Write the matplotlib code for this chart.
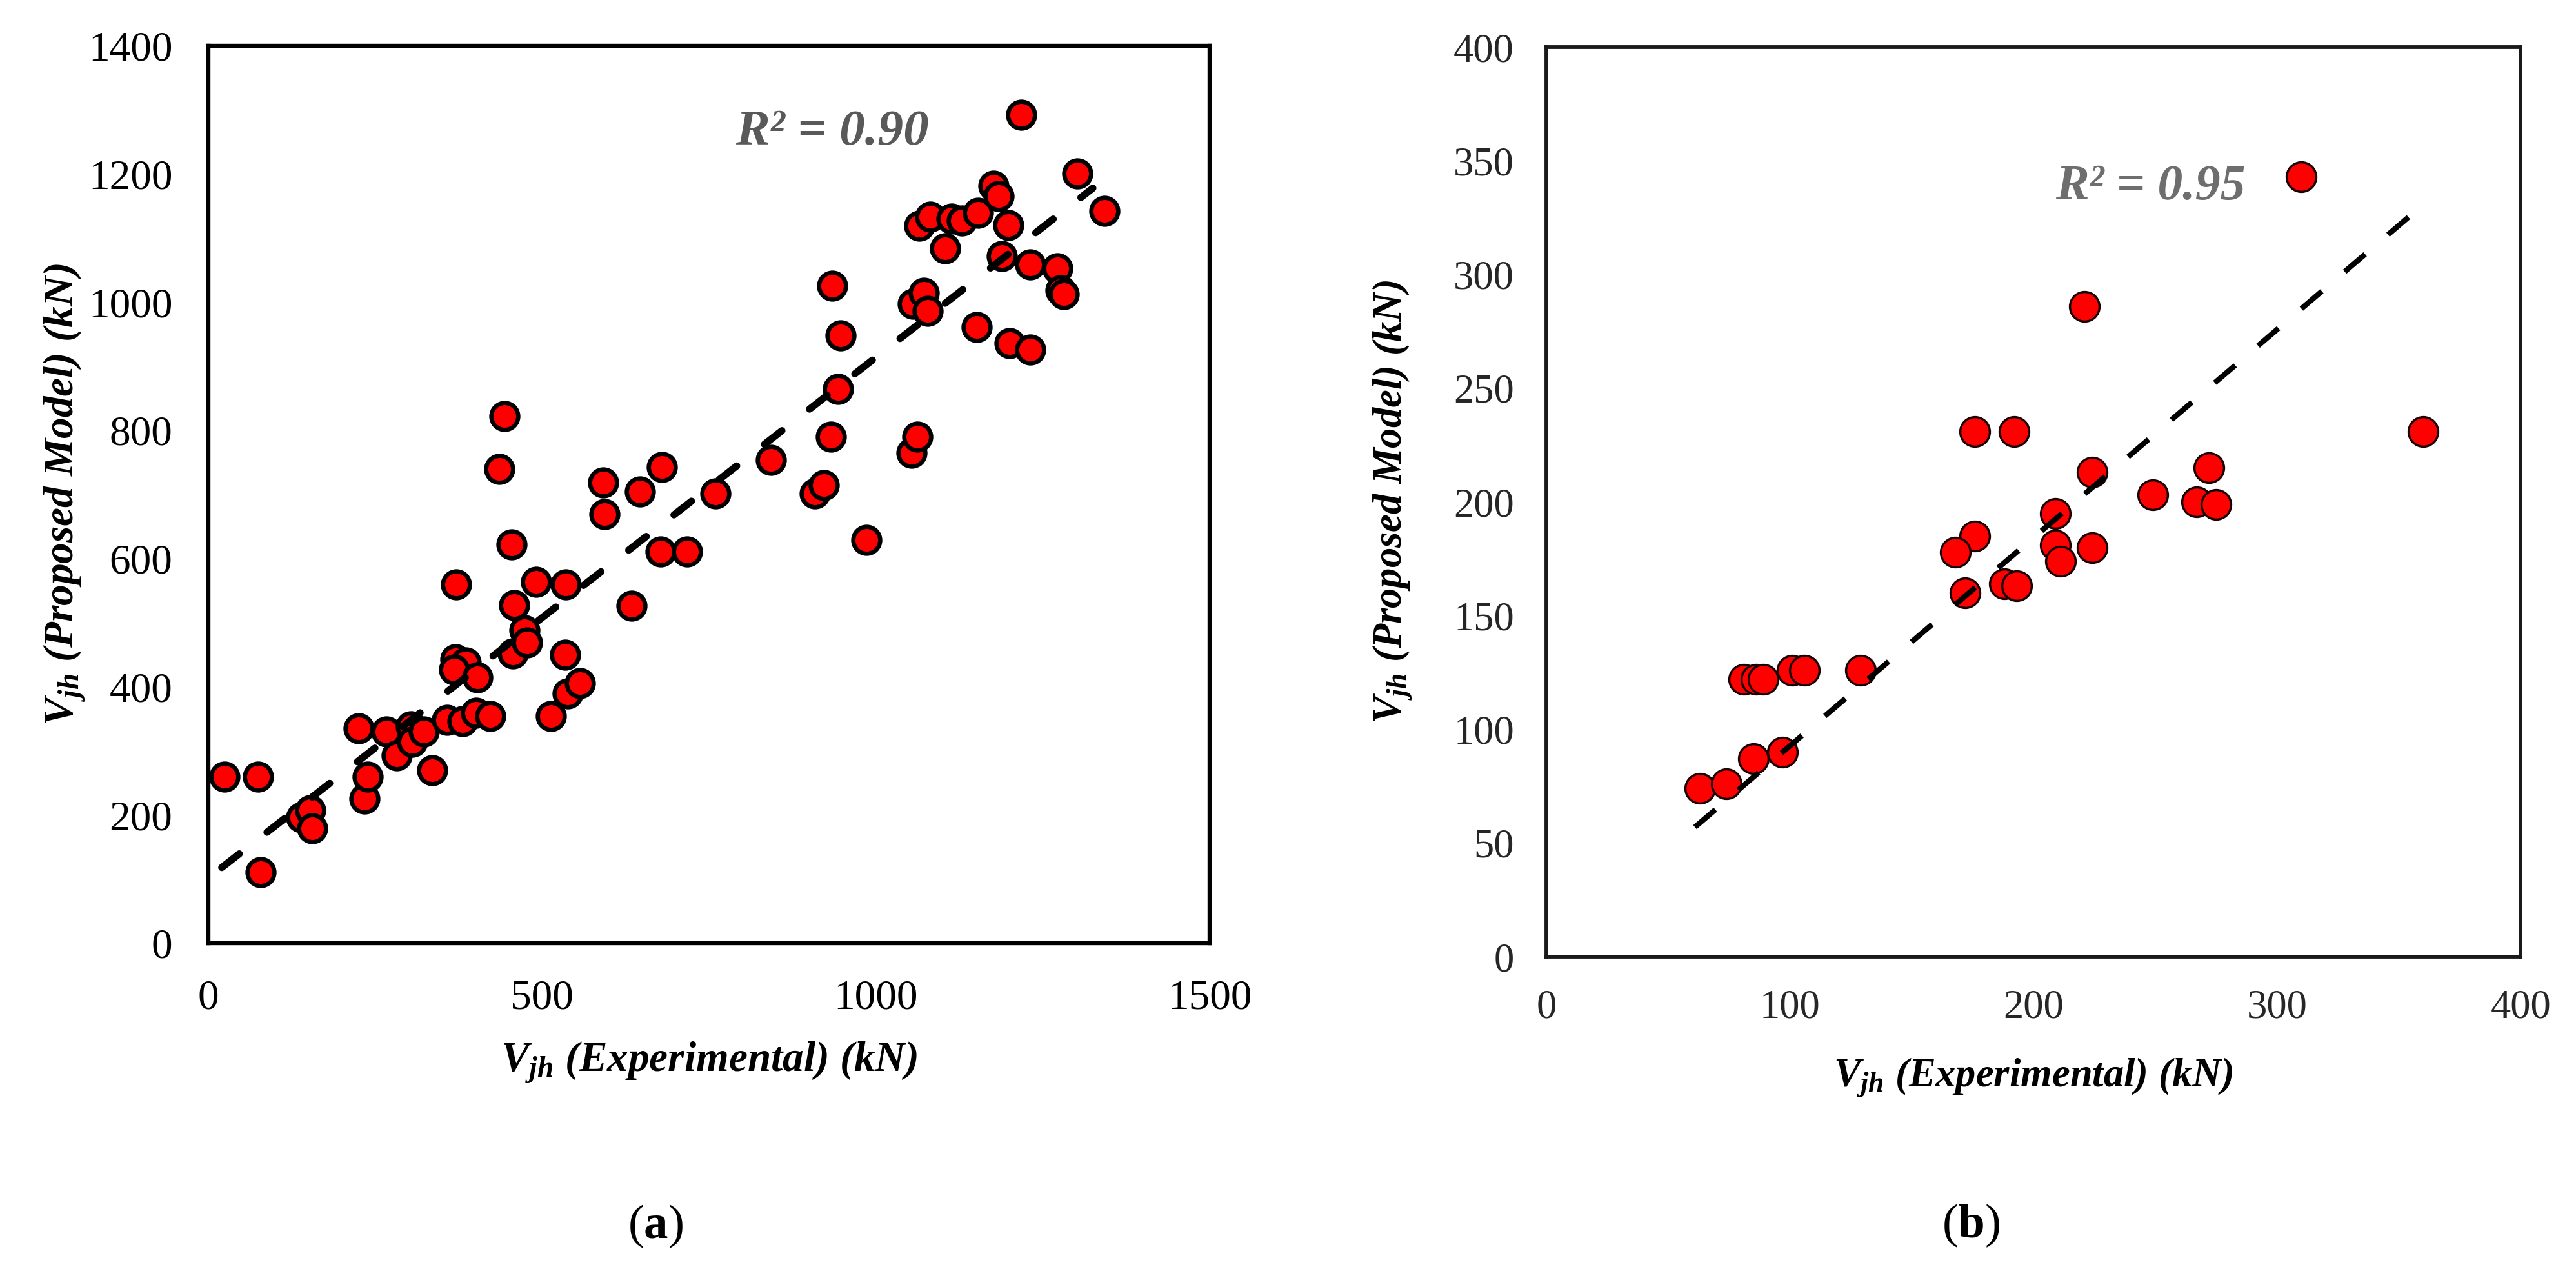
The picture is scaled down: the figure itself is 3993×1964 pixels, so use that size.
import matplotlib
matplotlib.use('Agg')
import matplotlib.pyplot as plt
import numpy as np

plt.rcParams['font.family'] = ['Liberation Serif', 'DejaVu Serif']
plt.rcParams['mathtext.fontset'] = 'custom'
plt.rcParams['mathtext.it'] = 'Liberation Serif:bold:italic'
plt.rcParams['mathtext.rm'] = 'Liberation Serif:bold:italic'
plt.rcParams['mathtext.bf'] = 'Liberation Serif:bold'

# (a) experimental vs proposed model, kN
exp_a = [24, 74, 78, 139, 153, 156, 225, 234, 239, 267, 282, 303, 305, 323, 335,
         358, 381, 401, 422, 370, 386, 368, 403, 371, 436, 444, 454, 456, 458, 474,
         477, 491, 513, 534, 535, 538, 557, 591, 593, 634, 647, 677, 679, 717, 760,
         843, 908, 922, 933, 935, 943, 947, 986, 1053, 1062, 1055, 1072, 1078,
         1065, 1081, 1104, 1113, 1129, 1153, 1151, 1176, 1184, 1189, 1198, 1200,
         1218, 1231, 1231, 1272, 1277, 1281, 1302, 1342]
mod_a = [260, 260, 111, 196, 207, 179, 335, 225, 260, 330, 293, 338, 314, 330, 270,
         348, 346, 359, 354, 443, 438, 427, 415, 560, 740, 822, 622, 452, 527, 488,
         469, 564, 354, 450, 560, 390, 406, 719, 669, 526, 705, 611, 743, 611, 702,
         754, 702, 715, 790, 1026, 865, 948, 629, 765, 790, 997, 1015, 986,
         1119, 1133, 1084, 1130, 1127, 1139, 961, 1182, 1166, 1072, 1120, 936,
         1292, 1059, 926, 1053, 1019, 1013, 1201, 1142]
trend_a_x = [20, 1325]
trend_a_y = [118, 1178]

# (b)
exp_b = [310, 221, 176, 192, 360, 224, 272, 249, 267, 275, 209, 176, 168, 209, 211,
         224, 172, 188, 193, 81, 86, 89, 101, 106, 129, 85, 97, 63, 74]
mod_b = [343, 286, 231, 231, 231, 213, 215, 203, 200, 199, 195, 185, 178, 181, 174,
         180, 160, 164, 163, 122, 122, 122, 126, 126, 126, 87, 90, 74, 76]
trend_b_x = [61, 357]
trend_b_y = [57, 328]

fig = plt.figure(figsize=(39.93, 19.64), dpi=100)
ax1 = fig.add_axes([0.0809, 0.2556, 0.3887, 0.7082])
ax2 = fig.add_axes([0.6003, 0.2449, 0.3782, 0.7179])

# panel (a)
ax1.plot(exp_a, mod_a, 'o', ms=30, mfc='#ff0000', mec='black', mew=4.8,
         clip_on=False, zorder=3)
ax1.plot(trend_a_x, trend_a_y, color='black', lw=8, dashes=(3.1, 4.9),
         dash_capstyle='round', zorder=4)
ax1.text(790, 1246, 'R² = 0.90', color='#595959', fontsize=57,
         fontweight='bold', style='italic', va='baseline')
ax1.set_xlim(0, 1500)
ax1.set_ylim(0, 1400)
ax1.set_xticks([0, 500, 1000, 1500])
ax1.set_yticks(np.arange(0, 1401, 200))
ax1.tick_params(length=0, labelsize=47, pad=40)
for s in ax1.spines.values():
    s.set_linewidth(4.6)
ax1.set_xlabel(r'$V_{jh}$ (Experimental) (kN)', fontsize=47,
               fontweight='bold', style='italic')
ax1.set_ylabel(r'$V_{jh}$ (Proposed Model) (kN)', fontsize=47,
               fontweight='bold', style='italic')
ax1.xaxis.set_label_coords(0.5, -0.133)
ax1.xaxis.label.set_va('center')
ax1.yaxis.set_label_coords(-0.1437, 0.5)
ax1.yaxis.label.set_va('center')

# panel (b)
ax2.plot(exp_b, mod_b, 'o', ms=33, mfc='#ff0000', mec='#1a0000', mew=2.5,
         clip_on=False, zorder=3)
ax2.plot(trend_b_x, trend_b_y, color='black', lw=6, dashes=(5.0, 5.6),
         zorder=4)
ax2.text(209, 333, 'R² = 0.95', color='#6e6e6e', fontsize=56,
         fontweight='bold', style='italic', va='baseline')
ax2.set_xlim(0, 400)
ax2.set_ylim(0, 400)
ax2.set_xticks(np.arange(0, 401, 100))
ax2.set_yticks(np.arange(0, 401, 50))
ax2.tick_params(length=0, labelsize=45, pad=36, labelcolor='#262626')
for s in ax2.spines.values():
    s.set_linewidth(4.2)
    s.set_color('#1a1a1a')
ax2.set_xlabel(r'$V_{jh}$ (Experimental) (kN)', fontsize=45,
               fontweight='bold', style='italic')
ax2.set_ylabel(r'$V_{jh}$ (Proposed Model) (kN)', fontsize=45,
               fontweight='bold', style='italic')
ax2.xaxis.set_label_coords(0.5, -0.1326)
ax2.xaxis.label.set_va('center')
ax2.yaxis.set_label_coords(-0.158, 0.5)
ax2.yaxis.label.set_va('center')

fig.text(1016 / 3993, 1 - 1901 / 1964, r'($\mathbf{a}$)', fontsize=54,
         ha='center', va='center')
fig.text(3055 / 3993, 1 - 1900 / 1964, r'($\mathbf{b}$)', fontsize=54,
         ha='center', va='center')

fig.savefig('out.png', dpi=100, facecolor='white')
